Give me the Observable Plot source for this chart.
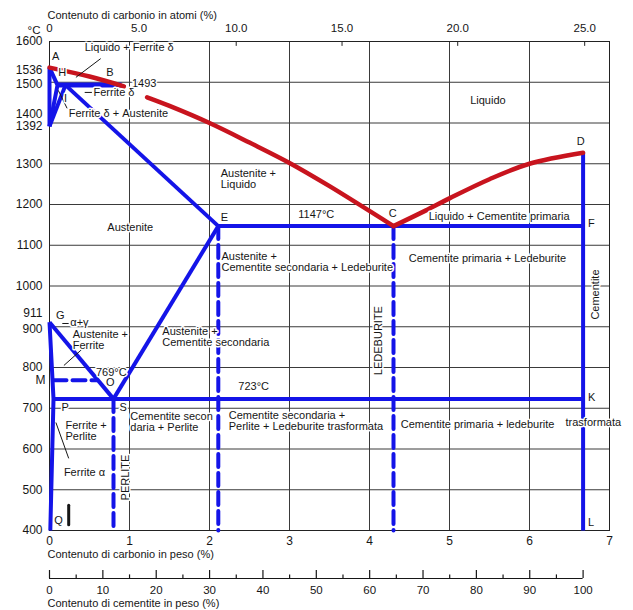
<!DOCTYPE html>
<html><head><meta charset="utf-8">
<script src="https://cdn.jsdelivr.net/npm/d3@7"></script>
<script src="https://cdn.jsdelivr.net/npm/@observablehq/plot@0.6"></script>
<style>body{margin:0;background:#fff;} svg{display:block;}</style>
</head><body><div id="chart"></div>
<script>
// ---------- data ----------
const carbonTicks = [0,1,2,3,4,5,6,7];
const tempTicks = [400,500,600,700,800,900,1000,1100,1200,1300,1400,1500,1600];
const atomicTicks = [0,5,10,15,20,25];
const atomicLabels = ["0","5.0","10.0","15.0","20.0","25.0"];
const cementiteMajor = [0,10,20,30,40,50,60,70,80,90,100];
const cementiteMinor = [5,15,25,35,45,55,65,75,85,95];
const yLabelsPlain = [1600,1392,1300,1200,1100,1000,800,700,600,500,400];

// liquidus (red), [wt% C, °C]
const liquidusAB = [[0,1536],[0.5,1514],[0.93,1490]];
const liquidusBC = [[1.22,1463],[1.5,1442],[2,1400],[2.5,1352],[3,1302],[3.5,1245],[4.3,1147]];
const liquidusCD = [[4.3,1147],[4.7,1185],[5.0,1215],[5.5,1262],[6.0,1300],[6.67,1327]];

// blue phase boundaries
const lineAN  = [[0,1536],[0,1392]];
const lineAHN = [[0,1536],[0.1,1493],[0,1392]];
const lineNJ  = [[0,1392],[0.2,1493]];
const lineHB  = [[0.1,1493],[0.9,1493]];
const lineJE  = [[0.2,1493],[2.11,1147]];
const lineEF  = [[2.11,1147],[6.67,1147]];
const lineES  = [[2.11,1147],[0.8,723]];
const lineGS  = [[0,911],[0.8,723]];
const lineGPQ = [[0,911],[0.05,723],[0.01,400]];
const linePK  = [[0.05,723],[6.67,723]];
const lineDL  = [[6.67,1327],[6.67,400]];
// dashed
const lineMO  = [[0.05,769],[0.59,769]];
const lineS   = [[0.8,723],[0.8,400]];
const lineE   = [[2.11,1147],[2.11,400]];
const lineC   = [[4.3,1147],[4.3,400]];

// labels
const labelsStart = [
  ["Liquido + Ferrite δ",0.44,1585],
  ["A",0.03,1563],["H",0.11,1524],["B",0.71,1524],["1493",1.03,1497],
  ["Ferrite δ",0.55,1475],
  ["Ferrite δ + Austenite",0.24,1423],
  ["Austenite +\nLiquido",2.14,1263],
  ["E",2.14,1168],["1147°C",3.11,1175],
  ["Liquido + Cementite primaria",4.74,1171],
  ["F",6.73,1153],
  ["Cementite primaria + Ledeburite",4.49,1067],
  ["Austenite +\nCementite secondaria + Ledeburite",2.15,1059],
  ["G",0.08,928],["α+γ",0.26,911],
  ["Austenite +\nFerrite",0.29,868],
  ["769°C",0.58,788],
  ["P",0.15,702],["S",0.875,702],
  ["Ferrite +\nPerlite",0.2,644],
  ["Ferrite α",0.18,542],
  ["Q",0.06,425],
  ["Austenite +\nCementite secondaria",1.41,876],
  ["723°C",2.36,753],
  ["Cementite secon\ndaria + Perlite",1.01,666],
  ["Cementite secondaria +\nPerlite + Ledeburite trasformata",2.24,670],
  ["Cementite primaria + ledeburite",4.39,660],
  ["trasformata",6.45,665],
  ["K",6.73,726],["L",6.73,420]
];
const labelsMiddle = [
  ["I",0.2,1460],["Liquido",5.48,1455],["Austenite",1.01,1144],
  ["C",4.29,1178],["D",6.64,1355],["O",0.76,763]
];
const labelsRotated = [
  ["Cementite",6.83,979],["PERLITE",0.95,530],["LEDEBURITE",4.11,866]
];
const leaders = [
  [0.64,1558,0.33,1512],
  [0.44,1475,0.53,1475],
  [0.22,1436,0.11,1480],
  [0.16,908,0.24,908],
  [0.43,849,0.18,805],
  [0.24,577,0.08,665]
];
const qMark = [[0.24,462],[0.24,414]];

// ---------- helpers ----------
const RED = "#c8141e", BLUE = "#1414e8", INK = "#161616";
const pts = (arr) => arr.map(([w,t]) => ({w,t}));
const atToWt = a => 100*12.011*a/(12.011*a + 55.845*(100-a));
const FONT = "'Liberation Sans', Arial, Helvetica, sans-serif";

const solid = (arr, color, sw) => Plot.line(pts(arr), {x:"w", y:"t", stroke: color, strokeWidth: sw, strokeLinecap:"butt"});
const dashed = (arr) => Plot.line(pts(arr), {x:"w", y:"t", stroke: BLUE, strokeWidth: 4, strokeDasharray:"13,6"});
const txtOpts = {fill: INK, stroke:"white", strokeWidth:3, paintOrder:"stroke", fontSize: 11};
const yl = (vals, dy, txt) => Plot.text(vals, {x:0, y:d=>d, text: txt || (d=>String(d)), textAnchor:"end", dx:-7, dy, fontSize:12, fill:INK});

const main = Plot.plot({
  width: 633, height: 565,
  marginLeft: 49, marginRight: 24, marginTop: 41, marginBottom: 35,
  x: {domain:[0,7], axis:null},
  y: {domain:[400,1600], axis:null},
  style: {fontFamily: FONT, fontSize:"11px", color: INK, background:"white", overflow:"visible"},
  marks: [
    Plot.ruleY(tempTicks, {stroke:"#3a3a3a", strokeWidth:1}),
    Plot.ruleX(carbonTicks, {stroke:"#3a3a3a", strokeWidth:1}),
    Plot.frame({stroke:"#222", strokeWidth:1}),
    // top atomic ticks
    Plot.ruleX(atomicTicks.slice(1), {x: atToWt, y1:1600, y2:1588, stroke:"#222"}),
    // blue lines
    solid(lineAN, BLUE, 4), solid(lineAHN, BLUE, 4), solid(lineNJ, BLUE, 4),
    solid(lineHB, BLUE, 5), solid(lineJE, BLUE, 4), solid(lineEF, BLUE, 4),
    solid(lineES, BLUE, 4), solid(lineGS, BLUE, 4), solid(lineGPQ, BLUE, 4),
    solid(linePK, BLUE, 4), solid(lineDL, BLUE, 4),
    dashed(lineMO), dashed(lineS), dashed(lineE), dashed(lineC),
    // red liquidus
    Plot.line(pts(liquidusAB), {x:"w", y:"t", stroke:RED, strokeWidth:4.5, curve:"catmull-rom"}),
    Plot.line(pts(liquidusBC), {x:"w", y:"t", stroke:RED, strokeWidth:4.5, curve:"catmull-rom"}),
    Plot.line(pts(liquidusCD), {x:"w", y:"t", stroke:RED, strokeWidth:4.5, curve:"catmull-rom"}),
    // leaders
    Plot.link(leaders, {x1:d=>d[0], y1:d=>d[1], x2:d=>d[2], y2:d=>d[3], stroke:INK, strokeWidth:1}),
    Plot.line(pts(qMark), {x:"w", y:"t", stroke:INK, strokeWidth:3}),
    // labels
    Plot.text(labelsStart, {x:d=>d[1], y:d=>d[2], text:d=>d[0], textAnchor:"start", lineHeight:1.0, ...txtOpts}),
    Plot.text(labelsMiddle, {x:d=>d[1], y:d=>d[2], text:d=>d[0], textAnchor:"middle", ...txtOpts}),
    Plot.text(labelsRotated, {x:d=>d[1], y:d=>d[2], text:d=>d[0], rotate:-90, textAnchor:"middle", ...txtOpts}),
    // y-axis labels
    yl(yLabelsPlain, 0),
    yl([1536], 3),
    yl([1500], 2),
    yl([1400], -9),
    yl([911], -9),
    yl([900], 2),
    Plot.text([769], {x:0, y:d=>d, text:()=>"M", textAnchor:"end", dx:-4, fontSize:12, fill:INK}),
    // bottom carbon axis labels
    Plot.text(carbonTicks, {x:d=>d, y:400, text:d=>String(d), dy:11, fontSize:12, fill:INK}),
    Plot.text(["Contenuto di carbonio in peso (%)"], {frameAnchor:"bottom-left", dx:-2, dy:27, textAnchor:"start", fontSize:11, fill:INK}),
    // top atomic axis labels
    Plot.text(atomicTicks, {x: atToWt, y:1600, text:(d,i)=>atomicLabels[i], dy:-13, fontSize:11.5, fill:INK}),
    Plot.text(["°C"], {frameAnchor:"top-left", dx:-9, dy:-16, textAnchor:"end", fontSize:11.5, fill:INK}),
    Plot.text(["Contenuto di carbonio in atomi (%)"], {frameAnchor:"top-left", dx:-2, dy:-30, textAnchor:"start", fontSize:11, fill:INK})
  ]
});

const cem = Plot.plot({
  width: 633, height: 45,
  marginLeft: 49, marginRight: 24, marginTop: 5, marginBottom: 32,
  x: {domain:[0, 700/6.67], axis:null},
  y: {domain:[0,1], axis:null},
  style: {fontFamily: FONT, fontSize:"11px", color: INK, background:"white", overflow:"visible"},
  marks: [
    Plot.ruleY([0], {x1:0, x2:100, stroke:INK, strokeWidth:1.2}),
    Plot.ruleX(cementiteMajor, {y1:0, y2:1, stroke:INK, strokeWidth:1.2}),
    Plot.ruleX(cementiteMinor, {y1:0, y2:0.45, stroke:INK, strokeWidth:1.2}),
    Plot.text(cementiteMajor, {x:d=>d, y:0, text:d=>String(d), dy:12, fontSize:11.5, fill:INK}),
    Plot.text(["Contenuto di cementite in peso (%)"], {x:0, y:0, dx:-2, dy:25, textAnchor:"start", fontSize:11, fill:INK})
  ]
});

const root = document.getElementById("chart");
root.appendChild(main);
root.appendChild(cem);
</script>
</body></html>
